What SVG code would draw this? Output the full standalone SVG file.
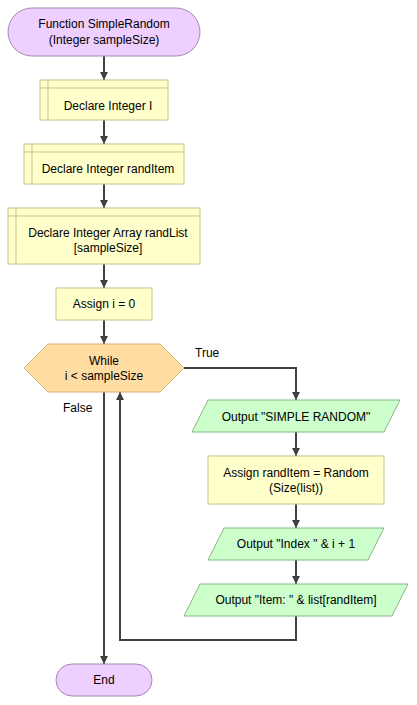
<svg xmlns="http://www.w3.org/2000/svg" width="417" height="705" viewBox="0 0 417 705">
<style>
text{font-family:"Liberation Sans",Arial,sans-serif;font-size:12px;fill:#000;text-anchor:middle}
.lbl{text-anchor:start}
.term{fill:#EECFFF;stroke:#A488AE;stroke-width:1}
.proc{fill:#FFFFCC;stroke:#C6C28A;stroke-width:1}
.io{fill:#CCFFCC;stroke:#86B486;stroke-width:1}
.dec{fill:#FFDDA2;stroke:#D6B476;stroke-width:1}
.c{fill:none;stroke:#404040;stroke-width:2}
</style>
<defs>
<marker id="ah" markerWidth="8" markerHeight="8" refX="8" refY="4" orient="auto" markerUnits="userSpaceOnUse">
<path d="M0,0 L8,4 L0,8 z" fill="#404040"/>
</marker>
</defs>
<g id="connectors">
<path class="c" d="M104,56 V80" marker-end="url(#ah)"/>
<path class="c" d="M104,120 V144" marker-end="url(#ah)"/>
<path class="c" d="M104,184 V208" marker-end="url(#ah)"/>
<path class="c" d="M104,264 V288" marker-end="url(#ah)"/>
<path class="c" d="M104,320 V344" marker-end="url(#ah)"/>
<path class="c" d="M184,368 H296 V400" marker-end="url(#ah)"/>
<path class="c" d="M296,432 V456" marker-end="url(#ah)"/>
<path class="c" d="M296,504 V528" marker-end="url(#ah)"/>
<path class="c" d="M296,560 V584" marker-end="url(#ah)"/>
<path class="c" d="M296,616 V640 H120 V392" marker-end="url(#ah)"/>
<path class="c" d="M104,392 V664" marker-end="url(#ah)"/>
<text class="lbl" x="195" y="357">True</text>
<text class="lbl" x="63" y="412">False</text>
</g>
<g id="start">
<rect class="term" x="8" y="8" width="192" height="48" rx="24"/>
<text x="104" y="28">Function SimpleRandom</text>
<text x="104" y="44">(Integer sampleSize)</text>
</g>
<g id="declareI">
<rect class="proc" x="40" y="80" width="128" height="40"/>
<path class="proc" d="M48,80 V120 M40,88 H168" fill="none"/>
<text x="108" y="110">Declare Integer I</text>
</g>
<g id="declareRandItem">
<rect class="proc" x="24" y="144" width="160" height="40"/>
<path class="proc" d="M32,144 V184 M24,152 H184" fill="none"/>
<text x="108" y="173">Declare Integer randItem</text>
</g>
<g id="declareRandList">
<rect class="proc" x="8" y="208" width="192" height="56"/>
<path class="proc" d="M16,208 V264 M8,216 H200" fill="none"/>
<text x="108" y="237">Declare Integer Array randList</text>
<text x="108" y="252">[sampleSize]</text>
</g>
<g id="assignI">
<rect class="proc" x="56" y="288" width="96" height="32"/>
<text x="104" y="308">Assign i = 0</text>
</g>
<g id="while">
<polygon class="dec" points="24,368 48,344 160,344 184,368 160,392 48,392"/>
<text x="104" y="365">While</text>
<text x="104" y="380">i &lt; sampleSize</text>
</g>
<g id="outSimple">
<polygon class="io" points="208,400 400,400 384,432 192,432"/>
<text x="296" y="421">Output "SIMPLE RANDOM"</text>
</g>
<g id="assignRandItem">
<rect class="proc" x="208" y="456" width="176" height="48"/>
<text x="296" y="477">Assign randItem = Random</text>
<text x="296" y="492">(Size(list))</text>
</g>
<g id="outIndex">
<polygon class="io" points="224,528 384,528 368,560 208,560"/>
<text x="296" y="548">Output "Index " &amp; i + 1</text>
</g>
<g id="outItem">
<polygon class="io" points="200,584 408,584 392,616 184,616"/>
<text x="296" y="604">Output "Item: " &amp; list[randItem]</text>
</g>
<g id="end">
<rect class="term" x="56" y="664" width="96" height="32" rx="16"/>
<text x="104" y="684">End</text>
</g>
</svg>
